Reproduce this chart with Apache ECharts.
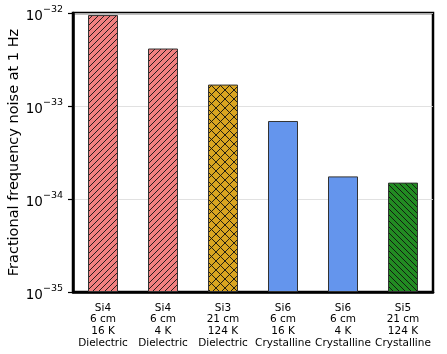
<!DOCTYPE html>
<html><head><meta charset="utf-8">
<script src="https://cdn.jsdelivr.net/npm/echarts@6/dist/echarts.min.js"></script>
<style>html,body{margin:0;padding:0;background:#fff}#c{width:447px;height:354px}</style>
</head><body><div id="c"></div>
<script>
// ---- data ----
const samples   = ['Si4', 'Si4', 'Si3', 'Si6', 'Si6', 'Si5'];
const lengths   = ['6 cm', '6 cm', '21 cm', '6 cm', '6 cm', '21 cm'];
const temps     = ['16 K', '4 K', '124 K', '16 K', '4 K', '124 K'];
const coatings  = ['Dielectric', 'Dielectric', 'Dielectric', 'Crystalline', 'Crystalline', 'Crystalline'];
const noise     = [9.5e-33, 4.15e-33, 1.7e-33, 6.9e-34, 1.75e-34, 1.5e-34];
const yTickExponents = [-35, -34, -33, -32];
const yLabel = 'Fractional frequency noise at 1 Hz';

// ---- styles ----
const fillColors = ['#F08080', '#F08080', '#DAA520', '#6495ED', '#6495ED', '#228B22'];
const hatchKinds = ['/', '/', 'x', '', '', '\\'];
const hatchPeriods = { '/': 6, 'x': 9, '\\': 6 };

// plot in units of the lowest decade so the log axis works in a comfortable range
const baseExp = yTickExponents[0];
const unit = Math.pow(10, baseExp);
const topExp = yTickExponents[yTickExponents.length - 1];

function hatchFill(bg, kind) {
  if (!kind) return bg;
  const p = hatchPeriods[kind];
  const c = document.createElement('canvas');
  c.width = p; c.height = p;
  const ctx = c.getContext('2d');
  ctx.fillStyle = bg; ctx.fillRect(0, 0, p, p);
  ctx.strokeStyle = '#111'; ctx.lineWidth = 0.9;
  const seg = (x1, y1, x2, y2) => { ctx.beginPath(); ctx.moveTo(x1, y1); ctx.lineTo(x2, y2); ctx.stroke(); };
  if (kind === '/' || kind === 'x') { seg(-1, p + 1, p + 1, -1); seg(-1, 1, 1, -1); seg(p - 1, p + 1, p + 1, p - 1); }
  if (kind === '\\' || kind === 'x') { seg(-1, -1, p + 1, p + 1); seg(p - 1, -1, p + 1, 1); seg(-1, p - 1, 1, p + 1); }
  return { image: c, repeat: 'repeat' };
}

const categories = samples.map((s, i) => [s, lengths[i], temps[i], coatings[i]].join('\n'));
const seriesData = noise.map((v, i) => ({
  value: v / unit,
  itemStyle: { color: hatchFill(fillColors[i], hatchKinds[i]) }
}));

const font = 'DejaVu Sans';
const chart = echarts.init(document.getElementById('c'), null, { renderer: 'canvas' });
chart.setOption({
  animation: false,
  backgroundColor: '#fff',
  textStyle: { fontFamily: font },
  grid: { left: 73, right: 14, top: 13, bottom: 62, containLabel: false, outerBoundsMode: 'none',
          show: true, borderColor: '#000', borderWidth: 2.5, backgroundColor: 'transparent' },
  xAxis: {
    type: 'category',
    data: categories,
    axisLine: { lineStyle: { color: '#000', width: 2.5 } },
    axisTick: { alignWithLabel: true, length: 5, lineStyle: { color: '#000', width: 1.2 } },
    axisLabel: { color: '#000', fontSize: 10.5, lineHeight: 11.8, margin: 10, fontFamily: font, interval: 0, hideOverlap: false },
    splitLine: { show: false }
  },
  yAxis: {
    type: 'log',
    logBase: 10,
    min: 1,
    max: Math.pow(10, topExp - baseExp),
    name: yLabel,
    nameLocation: 'middle',
    nameGap: 51,
    nameMoveOverlap: false,
    nameTextStyle: { color: '#000', fontSize: 14.5, fontFamily: font },
    axisLine: { show: true, lineStyle: { color: '#000', width: 2.5 } },
    axisTick: { show: true, length: 5, lineStyle: { color: '#000', width: 1.2 } },
    minorTick: { show: false },
    splitLine: { show: true, lineStyle: { color: '#d9d9d9', width: 0.8 } },
    axisLabel: {
      margin: 10,
      formatter: function (v) {
        const e = Math.round(Math.log10(v)) + baseExp;
        return '{b|10}{s|' + String(e).replace('-', '\u2212') + '}';
      },
      rich: {
        b: { fontSize: 13.5, color: '#000', fontFamily: font, padding: [6, 0, 0, 0] },
        s: { fontSize: 9.5, color: '#000', fontFamily: font, padding: [0, 0, 6, 0] }
      }
    }
  },
  series: [{
    type: 'bar',
    data: seriesData,
    barWidth: '50%',
    itemStyle: { borderColor: '#333', borderWidth: 1 }
  }]
});
</script></body></html>
